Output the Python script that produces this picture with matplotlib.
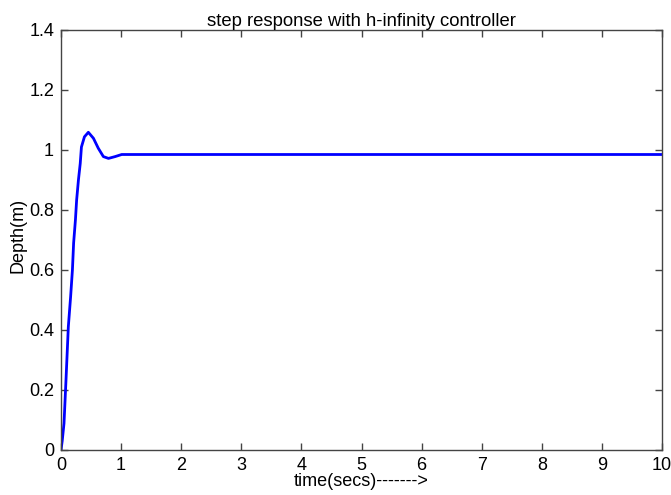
import matplotlib
matplotlib.use("Agg")
import matplotlib.pyplot as plt

t = [0.0, 0.02, 0.05, 0.083, 0.122, 0.16, 0.19, 0.21, 0.24, 0.26, 0.29, 0.32, 0.34,
     0.39, 0.455, 0.54, 0.62, 0.705, 0.79, 0.9, 1.01, 1.1, 2, 3, 4, 5, 6, 7, 8, 9, 10]
depth = [0.0, 0.03, 0.089, 0.233, 0.411, 0.511, 0.6, 0.69, 0.767, 0.833, 0.9, 0.955, 1.01,
         1.044, 1.059, 1.039, 1.006, 0.978, 0.972, 0.978, 0.985, 0.985, 0.985, 0.985, 0.985,
         0.985, 0.985, 0.985, 0.985, 0.985, 0.985]
xticks = list(range(0, 11))
yticks = [0, 0.2, 0.4, 0.6, 0.8, 1, 1.2, 1.4]
ytick_labels = ["0", "0.2", "0.4", "0.6", "0.8", "1", "1.2", "1.4"]

plt.rcParams['font.family'] = ['Liberation Sans', 'DejaVu Sans']

fig = plt.figure(figsize=(6.71, 4.95), dpi=100)
ax = fig.add_axes([61/671, 45/495, 601/671, 420/495])
ax.plot(t, depth, color=(0, 0, 1), lw=2)
ax.set_xlim(0, 10)
ax.set_ylim(0, 1.4)
ax.set_xticks(xticks)
ax.set_xticklabels([str(x) for x in xticks])
ax.set_yticks(yticks)
ax.set_yticklabels(ytick_labels)
ax.tick_params(direction='in', top=True, right=True, length=5, width=1, color='#444444',
               labelsize=13, pad=5)
for s in ax.spines.values():
    s.set_color('#444444')
    s.set_linewidth(1)
ax.set_title("step response with h-infinity controller", fontsize=13.3, pad=3)
ax.set_xlabel("time(secs)------->", fontsize=13, labelpad=-1)
ax.set_ylabel("Depth(m)", fontsize=13)
ax.yaxis.set_label_coords(-0.058, 0.51)
fig.savefig("out.png", dpi=100)
